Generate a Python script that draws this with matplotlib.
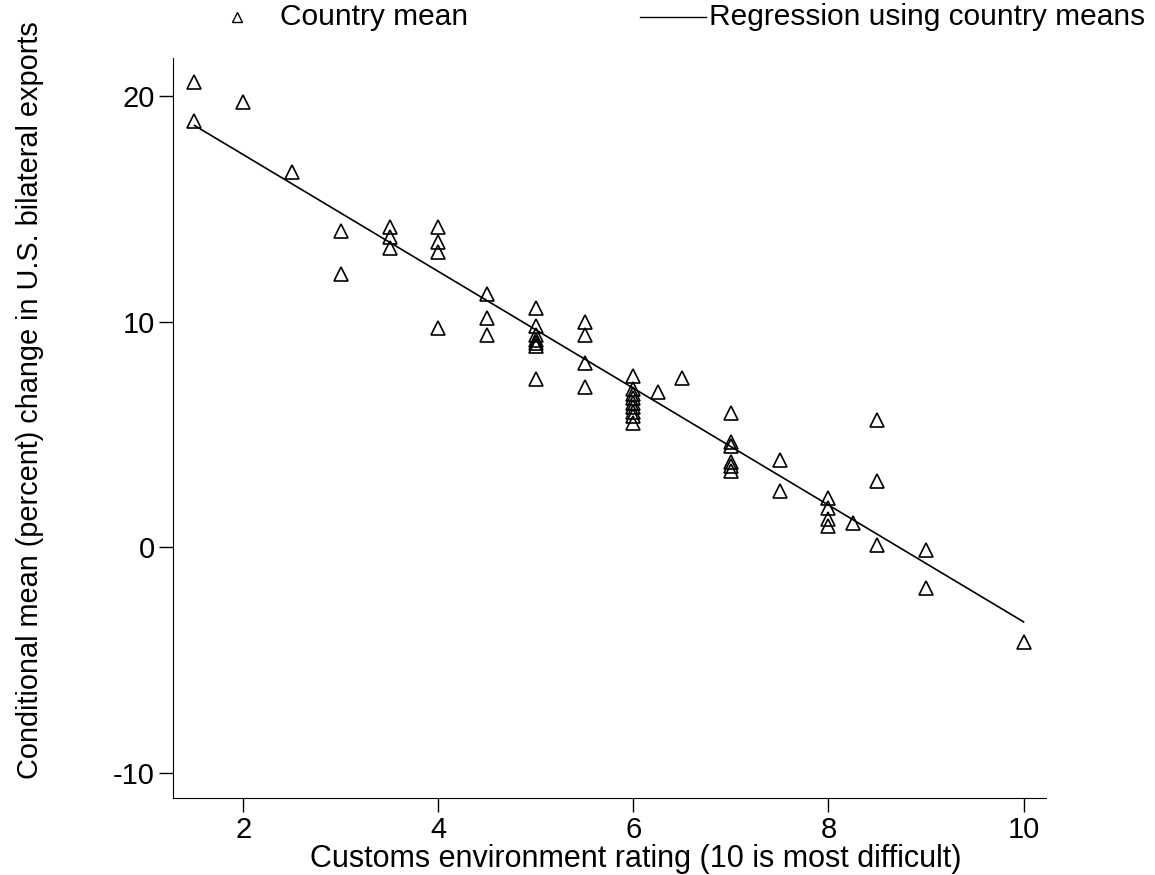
import numpy as np
import matplotlib
matplotlib.use("Agg")
import matplotlib.pyplot as plt
from matplotlib.lines import Line2D

plt.rcParams['font.family'] = ['Liberation Sans', 'DejaVu Sans']
plt.rcParams['axes.unicode_minus'] = False

# customs rating for each country mean, and the conditional mean change (%)
rating = [1.5, 1.5, 2, 2.5, 3, 3, 3.5, 3.5, 3.5,
          4, 4, 4, 4, 4.5, 4.5, 4.5,
          5, 5, 5, 5, 5, 5, 5,
          5.5, 5.5, 5.5, 5.5,
          6, 6, 6, 6, 6, 6, 6, 6, 6, 6.25, 6.5,
          7, 7, 7, 7, 7, 7, 7.5, 7.5,
          8, 8, 8, 8, 8.25, 8.5, 8.5, 8.5, 9, 9, 10]
change = [20.6, 18.9, 19.7, 16.6, 14.0, 12.1, 14.2, 13.75, 13.25,
          14.2, 13.5, 13.1, 9.7, 11.2, 10.15, 9.4,
          10.6, 9.8, 9.4, 9.2, 9.05, 8.9, 7.45,
          10.0, 9.4, 8.15, 7.1,
          7.6, 7.0, 6.8, 6.6, 6.4, 6.2, 6.0, 5.8, 5.5, 6.9, 7.5,
          5.95, 4.65, 4.5, 3.8, 3.6, 3.4, 3.85, 2.5,
          2.2, 1.75, 1.25, 0.95, 1.1, 5.65, 2.95, 0.1, -0.1, -1.8, -4.2]

x_ticks = [2, 4, 6, 8, 10]
y_ticks = [-10, 0, 10, 20]

fig = plt.figure(figsize=(11.55, 8.75), dpi=100)
# axes box in pixels: left 173, right 1046, top 58, bottom 798
ax = fig.add_axes([173 / 1155, 1 - 798 / 875, (1046 - 173) / 1155, (798 - 58) / 875])

ax.plot(rating, change, linestyle='none', marker='^', markersize=10.5,
        markerfacecolor='none', markeredgecolor='black', markeredgewidth=1.2)

# regression through the country means
slope, intercept = np.polyfit(rating, change, 1)
xs = np.array([min(rating), max(rating)])
ax.plot(xs, intercept + slope * xs, color='black', linewidth=1.2)

ax.set_xlim(1.28, 10.23)
ax.set_ylim(-11.1, 21.67)
ax.set_xticks(x_ticks)
ax.set_yticks(y_ticks)
ax.tick_params(direction='out', length=10, width=1, labelsize=21, pad=3)
for side in ['top', 'right']:
    ax.spines[side].set_visible(False)

ax.set_xlabel('Customs environment rating (10 is most difficult)', fontsize=22)
ax.xaxis.set_label_coords(0.53, -0.062)
ax.set_ylabel('Conditional mean (percent) change in U.S. bilateral exports', fontsize=20.8)
ax.yaxis.set_label_coords(-0.148, 0.538)

# legend drawn along the top
fig.add_artist(Line2D([237 / 1155], [1 - 17 / 875], marker='^', markersize=7,
                      markerfacecolor='none', markeredgecolor='black',
                      markeredgewidth=1, transform=fig.transFigure))
fig.text(280 / 1155, 1 - 17 / 875, 'Country mean', fontsize=21.5, va='center')
fig.add_artist(Line2D([640 / 1155, 706 / 1155], [1 - 17 / 875, 1 - 17 / 875],
                      color='black', linewidth=1, transform=fig.transFigure))
fig.text(709 / 1155, 1 - 17 / 875, 'Regression using country means', fontsize=21.5, va='center')

fig.savefig('out.png', dpi=100)
